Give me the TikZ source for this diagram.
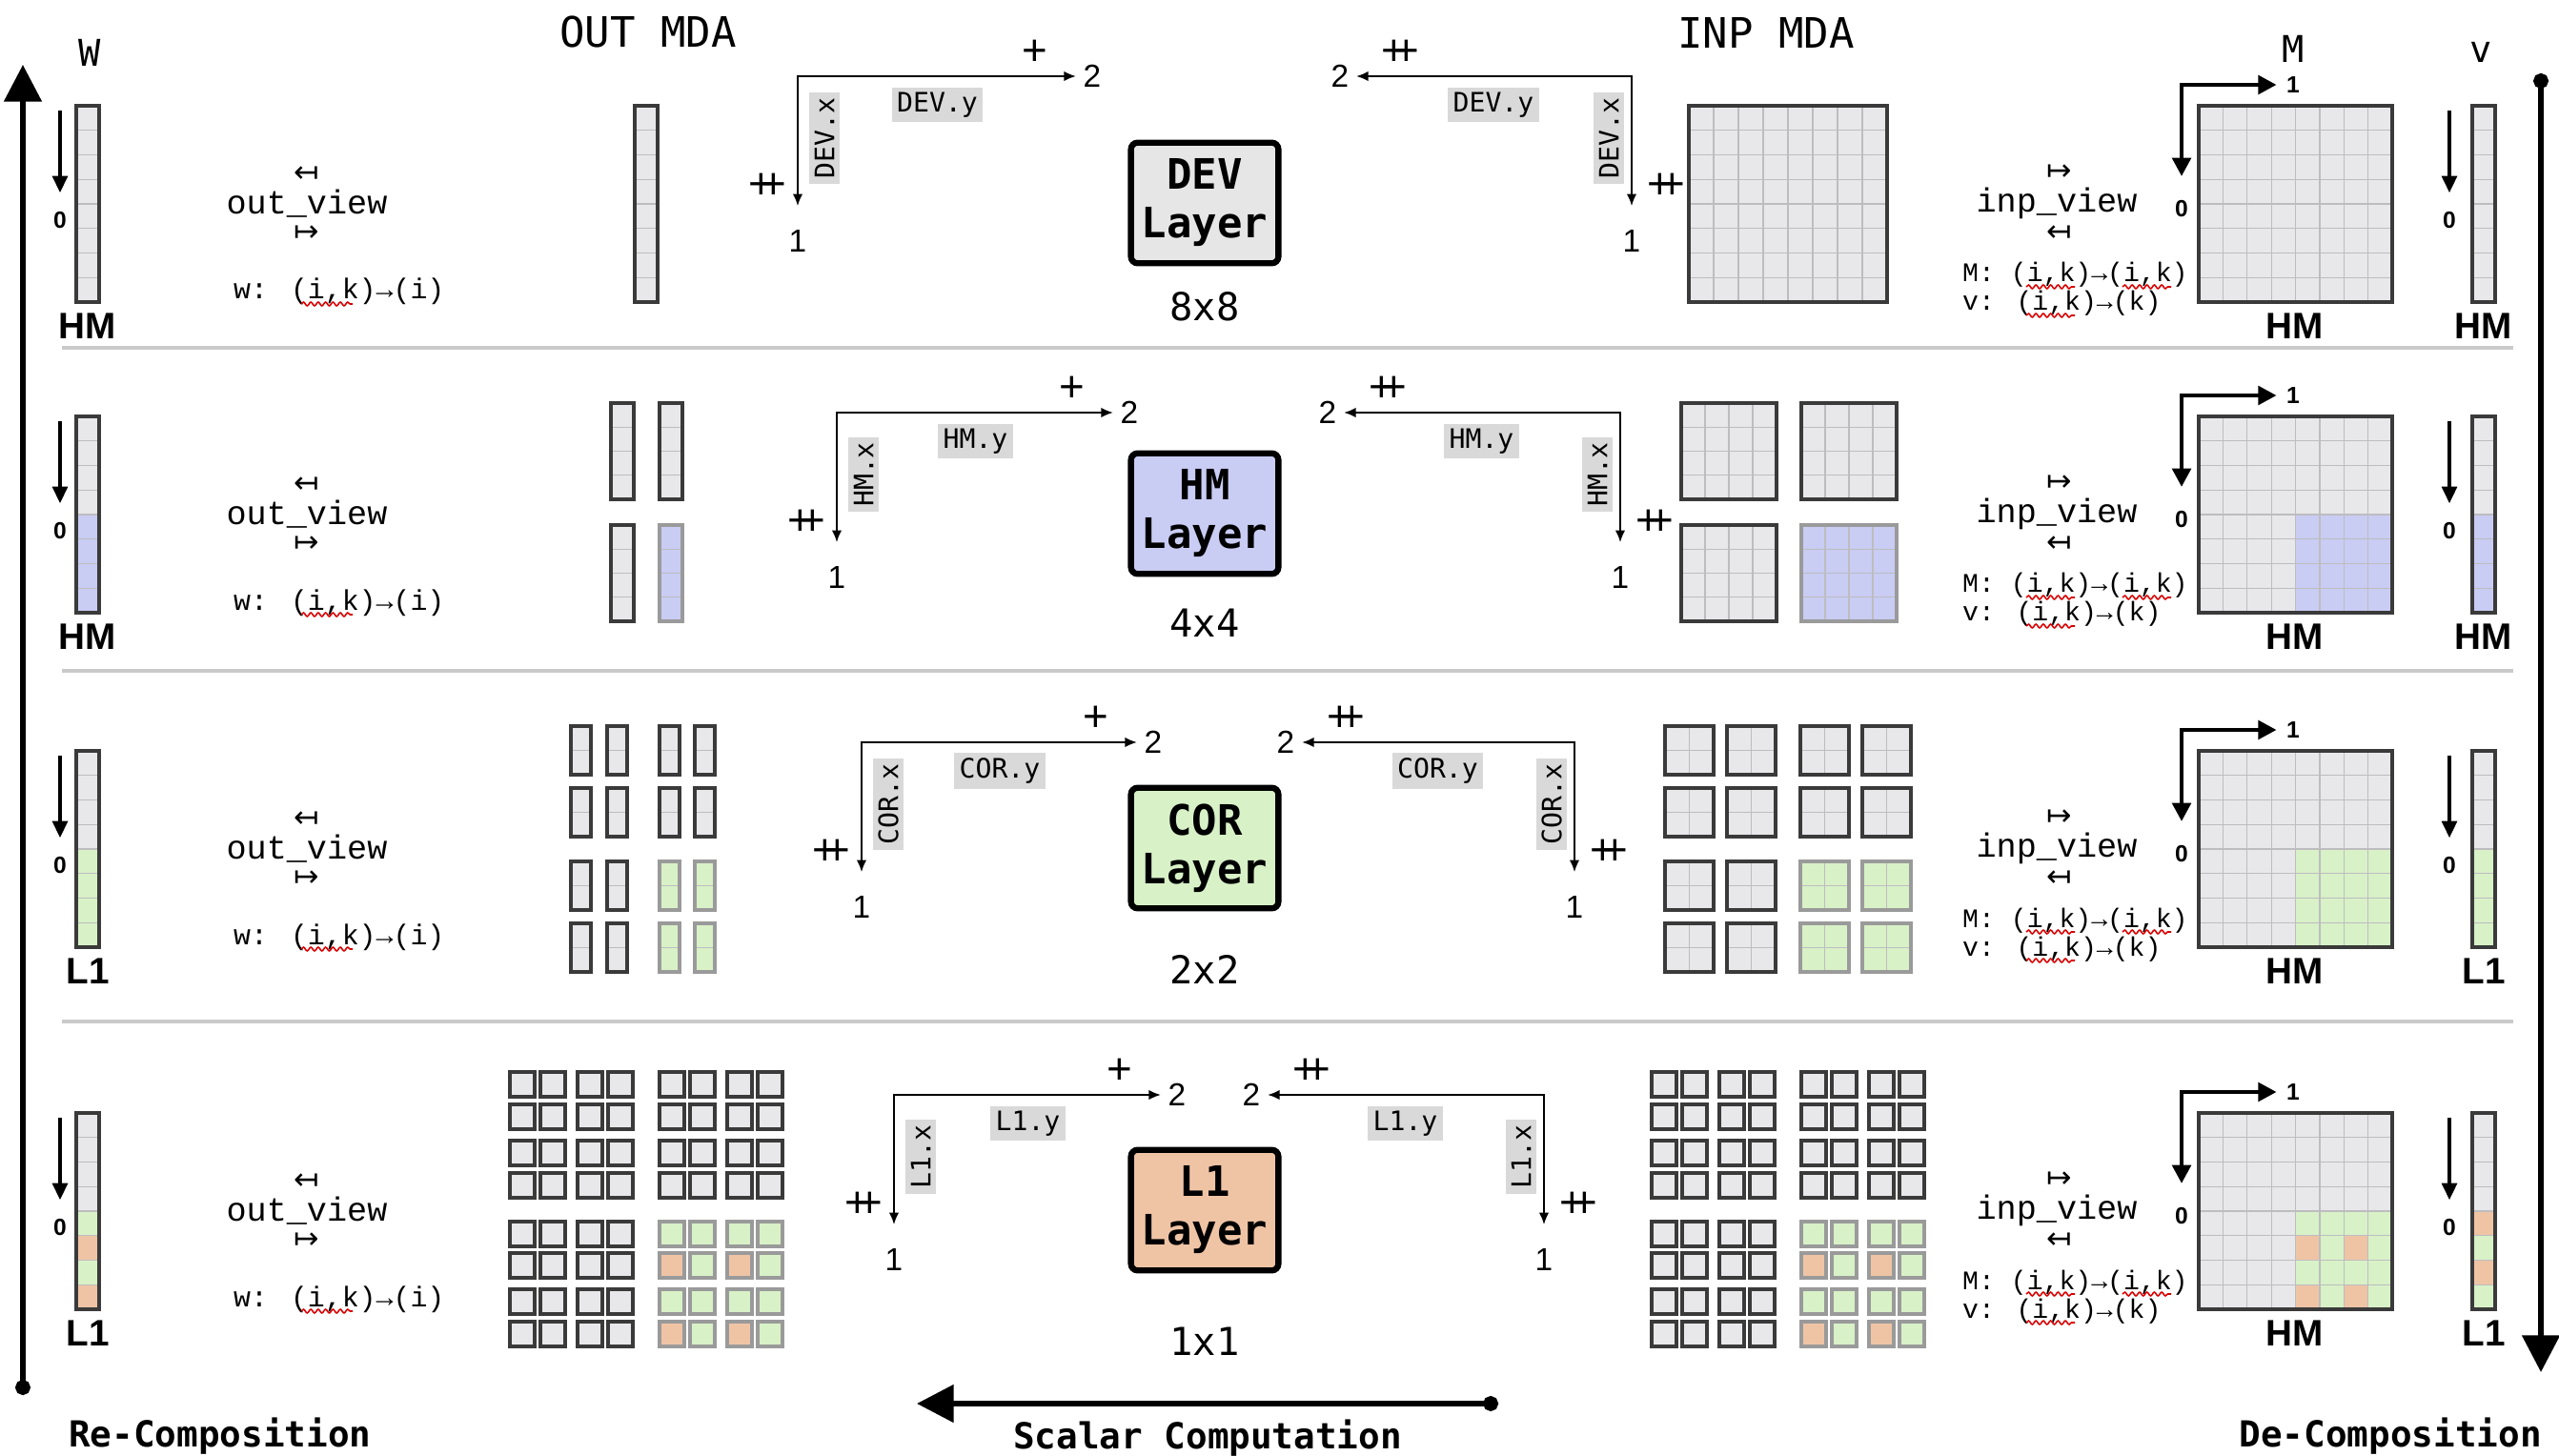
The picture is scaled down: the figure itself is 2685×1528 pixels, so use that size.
\documentclass[tikz,border=0pt]{standalone}
\usepackage{fontspec}
\setmainfont{Liberation Sans}
\setmonofont{DejaVu Sans Mono}
\newfontfamily\courfont{Liberation Mono}
\newfontfamily\arrfont{DejaVu Sans}
\usetikzlibrary{arrows.meta,decorations.pathmorphing}
\definecolor{cellgray}{HTML}{E8E8EA}
\definecolor{cellline}{HTML}{BDBDC0}
\definecolor{framegray}{HTML}{3A3A3A}
\definecolor{softframe}{HTML}{9A9A9A}
\definecolor{hmblue}{HTML}{C9CCF3}
\definecolor{corgreen}{HTML}{D8F1C7}
\definecolor{lonepeach}{HTML}{EFC4A5}
\definecolor{devgray}{HTML}{E6E6E6}
\definecolor{sepgray}{HTML}{CACACA}
\definecolor{tagbg}{HTML}{D9D9D9}
\newcommand{\dplus}{\rlap{+}\kern.28em+}
\newcommand{\gridlines}[6]{%
  \foreach \k in {1,...,#5}{\ifnum\k<#5\relax\draw[cell] ({#1+(#3-(#1))*\k/#5},#2) -- ({#1+(#3-(#1))*\k/#5},#4);\fi}%
  \foreach \k in {1,...,#6}{\ifnum\k<#6\relax\draw[cell] (#1,{#2+(#4-(#2))*\k/#6}) -- (#3,{#2+(#4-(#2))*\k/#6});\fi}}
\newcommand{\block}[8]{%
  \fill[fill=#7] (#1,#2) rectangle ++(#3,#4);
  \gridlines{#1}{#2}{#1+#3}{#2+#4}{#5}{#6}
  \draw[frameline,draw=#8] (#1,#2) rectangle ++(#3,#4);}

\begin{document}
\begin{tikzpicture}[x=0.01cm,y=-0.01cm,
  every node/.style={inner sep=1pt},
  cell/.style={draw=cellline,line width=.35pt},
  frameline/.style={line width=.9pt},
  sqbox/.style={line width=1.1pt},
  sep/.style={draw=sepgray,line width=.9pt},
  mdahead/.style={font=\ttfamily\fontsize{12.5}{14}\selectfont},
  toplab/.style={font=\ttfamily\fontsize{11}{13}\selectfont},
  rowlab/.style={font=\bfseries\fontsize{11}{13}\selectfont,inner sep=0pt},
  wzero/.style={font=\bfseries\fontsize{7}{8}\selectfont,inner xsep=1pt,inner ysep=5.5pt},
  mzero/.style={wzero,inner ysep=7pt},
  mone/.style={font=\bfseries\fontsize{7}{8}\selectfont,inner xsep=2.8pt,inner ysep=1pt},
  viewtxt/.style={font=\courfont\fontsize{10}{12}\selectfont},
  tinyarr/.style={font=\arrfont\fontsize{9}{10}\selectfont,inner sep=0pt},
  maptxt/.style={font=\courfont\fontsize{8.5}{10}\selectfont,anchor=base west},
  mmap/.style={font=\courfont\fontsize{8}{10}\selectfont,anchor=base west},
  squig/.style={draw=red!85!black,line width=.45pt,decorate,decoration={snake,amplitude=.55pt,segment length=2.2pt}},
  tag/.style={font=\ttfamily\fontsize{8}{9}\selectfont,fill=tagbg,inner sep=1.5pt},
  axnum/.style={font=\fontsize{9.5}{11}\selectfont,inner sep=2pt},
  axone/.style={axnum,inner ysep=7pt},
  opsym/.style={font=\fontsize{13}{15}\selectfont,inner sep=0pt},
  axis/.style={line width=.6pt,arrows={Latex[length=3.6pt,width=3pt]-Latex[length=3.6pt,width=3pt]}},
  marrow/.style={line width=1.3pt,arrows={Triangle[length=5.5pt,width=5.5pt]-Triangle[length=5.5pt,width=5.5pt]}},
  vecarrow/.style={line width=1pt,arrows={-Triangle[length=5pt,width=4.5pt]}},
  bigarrow/.style={line width=1.7pt,arrows={Circle[length=4.5pt]-Triangle[length=11pt,width=11pt]}},
  layer/.style={draw=black,line width=1.8pt,rounded corners=2pt,minimum width=44pt,minimum height=36pt,align=center,font=\ttfamily\bfseries\fontsize{12.5}{14.5}\selectfont,inner sep=2pt},
  sizetxt/.style={font=\ttfamily\fontsize{11.5}{13}\selectfont},
  bottomtxt/.style={font=\ttfamily\bfseries\fontsize{10.7}{12}\selectfont}]
\useasboundingbox (0,0) rectangle (2685,1528);
\fill[white] (0,0) rectangle (2685,1528);

\foreach \y in {365,704,1072} \draw[sep] (65,\y) -- (2637,\y);

\foreach \T in {111,437,788,1168}{
  \fill[cellgray] (80,\T) rectangle ++(24,206);
  \fill[cellgray] (2307,\T) rectangle ++(203,206);
  \fill[cellgray] (2594,\T) rectangle ++(24,206);}
\fill[hmblue] (80,540) rectangle (104,643);
\fill[hmblue] (2408.5,540) rectangle (2510,643);
\fill[hmblue] (2594,540) rectangle (2618,643);
\fill[corgreen] (80,891) rectangle (104,994);
\fill[corgreen] (2408.5,891) rectangle (2510,994);
\fill[corgreen] (2594,891) rectangle (2618,994);
\fill[corgreen] (2408.5,1271) rectangle (2510,1374);
\foreach \y/\wc/\vc in {1271/corgreen/lonepeach,1296.75/lonepeach/corgreen,1322.5/corgreen/lonepeach,1348.25/lonepeach/corgreen}{
  \fill[fill=\wc] (80,\y) rectangle ++(24,25.75);
  \fill[fill=\vc] (2594,\y) rectangle ++(24,25.75);}
\foreach \x in {2408.5,2459.25}
  \foreach \y in {1296.75,1348.25}
    \fill[lonepeach] (\x,\y) rectangle ++(25.375,25.75);

\foreach \n/\T/\ay/\lc/\lt/\rc/\rt/\sy/\sz/\lfill/\blab in {DEV/111/80/837/1146/1712/1406/322/8x8/devgray/HM,
    HM/437/433/878/1185/1700/1393/654/4x4/hmblue/HM,
    COR/788/779/904/1210/1652/1349/1017/2x2/corgreen/L1,
    L1/1168/1149/938/1235/1620/1313/1408/1x1/lonepeach/L1}{
  \gridlines{80}{\T}{104}{\T+206}{1}{8}
  \draw[frameline,draw=framegray] (80,\T) rectangle ++(24,206);
  \gridlines{2307}{\T}{2510}{\T+206}{8}{8}
  \draw[frameline,draw=framegray] (2307,\T) rectangle ++(203,206);
  \gridlines{2594}{\T}{2618}{\T+206}{1}{8}
  \draw[frameline,draw=framegray] (2594,\T) rectangle ++(24,206);
  \coordinate (wa\n) at (63,\T+5);
  \node[wzero] (wz\n) at (63,\T+120) {0};
  \draw[vecarrow] (wa\n) -- (wz\n);
  \node[rowlab] (wl\n) at (92,\T+231) {\blab};
  \node[viewtxt] (ov\n) at (322,\T+103) {out\_view};
  \node[tinyarr] (ova\n) at (322,\T+72) {↤};
  \node[tinyarr] (ovb\n) at (322,\T+134) {↦};
  \node[maptxt] (wm\n) at (241,\T+203) {w: (i,k)→(i)};
  \draw[squig] (316,\T+208) -- (370,\T+208);
  \node[axnum] (l2\n) at (\lt,\ay) {2};
  \node[axone] (l1\n) at (\lc,\ay+173) {1};
  \draw[axis] (l2\n) -| (l1\n);
  \node[opsym] (lp\n) at (\lt-60,\ay-25) {+};
  \node[opsym] (ld\n) at (\lc-32,\ay+115) {\dplus};
  \node[tag] (ly\n) at ({(\lc+\lt)/2-8},\ay+30) {\n.y};
  \node[tag,rotate=90] (lx\n) at (\lc+28,\ay+65) {\n.x};
  \node[layer,fill=\lfill] (box\n) at (1264,\T+102) {\n\\Layer};
  \node[sizetxt] (sz\n) at (1264,\sy) {\sz};
  \node[axnum] (r2\n) at (\rt,\ay) {2};
  \node[axone] (r1\n) at (\rc,\ay+173) {1};
  \draw[axis] (r2\n) -| (r1\n);
  \node[opsym] (rp\n) at (\rt+63,\ay-25) {\dplus};
  \node[opsym] (rd\n) at (\rc+36,\ay+115) {\dplus};
  \node[tag] (ry\n) at ({(\rc+\rt)/2+8},\ay+30) {\n.y};
  \node[tag,rotate=90] (rx\n) at (\rc-24,\ay+65) {\n.x};
  \node[viewtxt] (iv\n) at (2158,\T+102) {inp\_view};
  \node[tinyarr] (iva\n) at (2161,\T+70) {↦};
  \node[tinyarr] (ivb\n) at (2161,\T+134) {↤};
  \node[mmap] (mm\n) at (2055,\T+185) {M: (i,k)→(i,k)};
  \node[mmap] (vm\n) at (2055,\T+215) {v: (i,k)→(k)};
  \draw[squig] (2126,\T+190) -- (2177,\T+190);
  \draw[squig] (2227,\T+190) -- (2278,\T+190);
  \draw[squig] (2126,\T+220) -- (2177,\T+220);
  \node[mone] (m1\n) at (2406,\T-22) {1};
  \node[mzero] (m0\n) at (2289,\T+108) {0};
  \draw[marrow] (m1\n) -| (m0\n);
  \node[rowlab] (ml\n) at (2408,\T+231) {HM};
  \coordinate (va\n) at (2570,\T+5);
  \node[wzero] (vz\n) at (2570,\T+120) {0};
  \draw[vecarrow] (va\n) -- (vz\n);
  \node[rowlab] (vl\n) at (2606,\T+231) {\blab};
}

\block{666}{111}{24}{206}{1}{8}{cellgray}{framegray}
\block{1772}{111}{208}{206}{8}{8}{cellgray}{framegray}

\foreach \c [count=\ci] in {0,1}{
  \foreach \r [count=\ri] in {0,1}{
    \def\bfill{cellgray}\def\bline{framegray}
    \ifnum\ci=2 \ifnum\ri=2 \def\bfill{hmblue}\def\bline{softframe}\fi\fi
    \block{641+51*\c}{423+128*\r}{24}{101}{1}{4}{\bfill}{\bline}
    \block{1764+126*\c}{423+128*\r}{100}{101}{4}{4}{\bfill}{\bline}
  }}

\foreach \ox/\ix [count=\ci] in {599/1747,637/1812,692/1889,729/1954}{
  \foreach \y [count=\ri] in {762,827,904,969}{
    \def\bfill{cellgray}\def\bline{framegray}
    \ifnum\ci>2 \ifnum\ri>2 \def\bfill{corgreen}\def\bline{softframe}\fi\fi
    \block{\ox}{\y}{21}{51}{1}{2}{\bfill}{\bline}
    \block{\ix}{\y}{51}{51}{2}{2}{\bfill}{\bline}
  }}

\foreach \c [count=\ci] in {0,32,71,103,157,189,228,260}{
  \foreach \r [count=\ri] in {0,34,72,106,157,190,228,262}{
    \def\bfill{cellgray}\def\bline{framegray}
    \ifnum\ci>4 \ifnum\ri>4 \def\bfill{corgreen}\def\bline{softframe}%
      \ifodd\ri\else\ifodd\ci\def\bfill{lonepeach}\fi\fi\fi\fi
    \draw[sqbox,draw=\bline,fill=\bfill] (535+\c,1125+\r) rectangle ++(26,26);
    \draw[sqbox,draw=\bline,fill=\bfill] (1733+\c,1125+\r) rectangle ++(26,26);
  }}

\node[toplab] (tW) at (94,55) {W};
\node[mdahead] (tOut) at (680,34) {OUT MDA};
\node[mdahead] (tInp) at (1853,34) {INP MDA};
\node[toplab] (tM) at (2406,51) {M};
\node[toplab] (tv) at (2603,55) {v};

\coordinate (recS) at (24,1464);
\coordinate (recE) at (24,68);
\draw[bigarrow] (recS) -- (recE);
\coordinate (decS) at (2666,77);
\coordinate (decE) at (2666,1440);
\draw[bigarrow] (decS) -- (decE);
\coordinate (scS) at (1572,1473);
\coordinate (scE) at (962,1473);
\draw[bigarrow] (scS) -- (scE);
\node[bottomtxt,anchor=west] (recomp) at (68,1507) {Re-Composition};
\node[bottomtxt] (scalar) at (1267,1509) {Scalar Computation};
\node[bottomtxt,anchor=east] (decomp) at (2671,1507) {De-Composition};
\end{tikzpicture}
\end{document}
